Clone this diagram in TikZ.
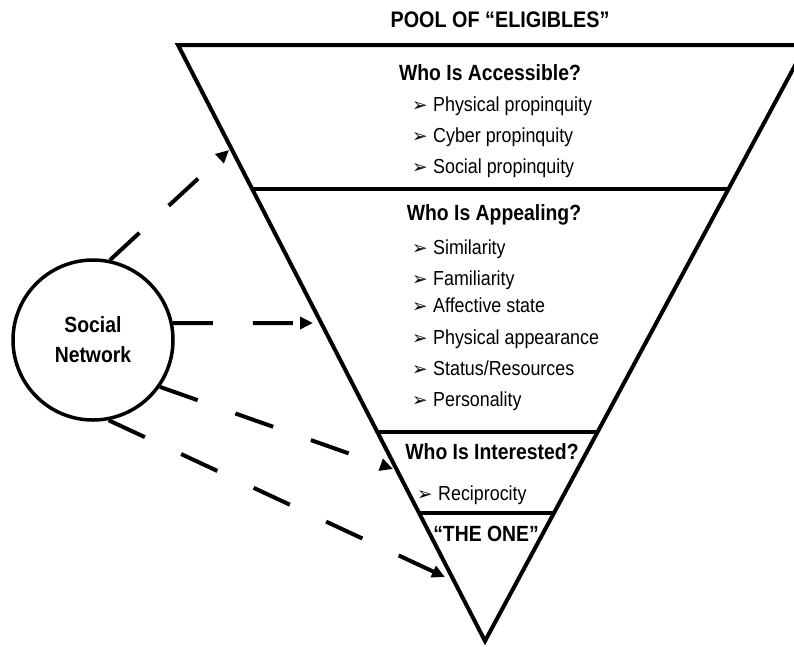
\documentclass[tikz,border=0pt]{standalone}
\usepackage{fontspec}
\setmainfont{Liberation Sans}[FakeStretch=0.88]
\newfontfamily\dejavu{DejaVu Sans}
\usetikzlibrary{arrows.meta}
\newcommand\bulitem[1]{\makebox[21pt][l]{\dejavu\fontsize{18.5}{18.5}\selectfont ➢}#1}
\begin{document}
\begin{tikzpicture}[x=1pt,y=-1pt]
\tikzset{
  outline/.style={line width=4pt, line join=miter},
  divider/.style={line width=4.5pt},
  heading/.style={font=\fontsize{22}{26}\selectfont\bfseries, anchor=base, inner sep=0pt},
  itemtext/.style={font=\fontsize{20.3}{24}\selectfont, anchor=base west, inner sep=0pt},
  conn/.style={line width=4pt, dash pattern=on 40pt off 40pt, -{Triangle[length=13pt,width=12pt]}},
}
\clip (0,0) rectangle (794,646);
\fill[white] (0,0) rectangle (794,646);

% triangle
\coordinate (tl) at (178,45);
\coordinate (tr) at (806,45);
\coordinate (apex) at (485,641);
\draw[outline] (tl) -- (tr) -- (apex) -- cycle;
\draw[divider] (252,189) -- (728,189);
\draw[divider] (377,432) -- (597,432);
\draw[divider] (419,513) -- (554,513);

% texts
\node[heading, font=\fontsize{22.5}{26}\selectfont\bfseries] (pool) at (500,27) {POOL OF “ELIGIBLES”};
\node[heading] (acc) at (490,80) {Who Is Accessible?};
\node[itemtext] (a1) at (412,111) {\bulitem{Physical propinquity}};
\node[itemtext] (a2) at (412,142) {\bulitem{Cyber propinquity}};
\node[itemtext] (a3) at (412,173) {\bulitem{Social propinquity}};

\node[heading] (app) at (494,220) {Who Is Appealing?};
\node[itemtext] (b1) at (412,254) {\bulitem{Similarity}};
\node[itemtext] (b2) at (412,285) {\bulitem{Familiarity}};
\node[itemtext] (b3) at (412,312) {\bulitem{Affective state}};
\node[itemtext] (b4) at (412,344) {\bulitem{Physical appearance}};
\node[itemtext] (b5) at (412,375) {\bulitem{Status/Resources}};
\node[itemtext] (b6) at (412,406) {\bulitem{Personality}};

\node[heading] (int) at (492,459) {Who Is Interested?};
\node[itemtext] (c1) at (417,500) {\bulitem{Reciprocity}};

\node[heading] (one) at (486,541) {“THE ONE”};

% social network
\node[circle, draw, line width=3.5pt, minimum size=160pt, inner sep=0pt,
      font=\fontsize{22}{30}\selectfont\bfseries, align=center] (sn) at (93,340) {Social\\Network};

\coordinate (t1) at (229,150);
\coordinate (t2) at (313,323);
\coordinate (t3) at (393,469);
\coordinate (t4) at (445,577);
\draw[conn] (sn.78) -- (t1);
\draw[conn] (sn.12) -- (t2);
\draw[conn] (sn.-35) -- (t3);
\draw[conn] (sn.-79) -- (t4);
\end{tikzpicture}
\end{document}
